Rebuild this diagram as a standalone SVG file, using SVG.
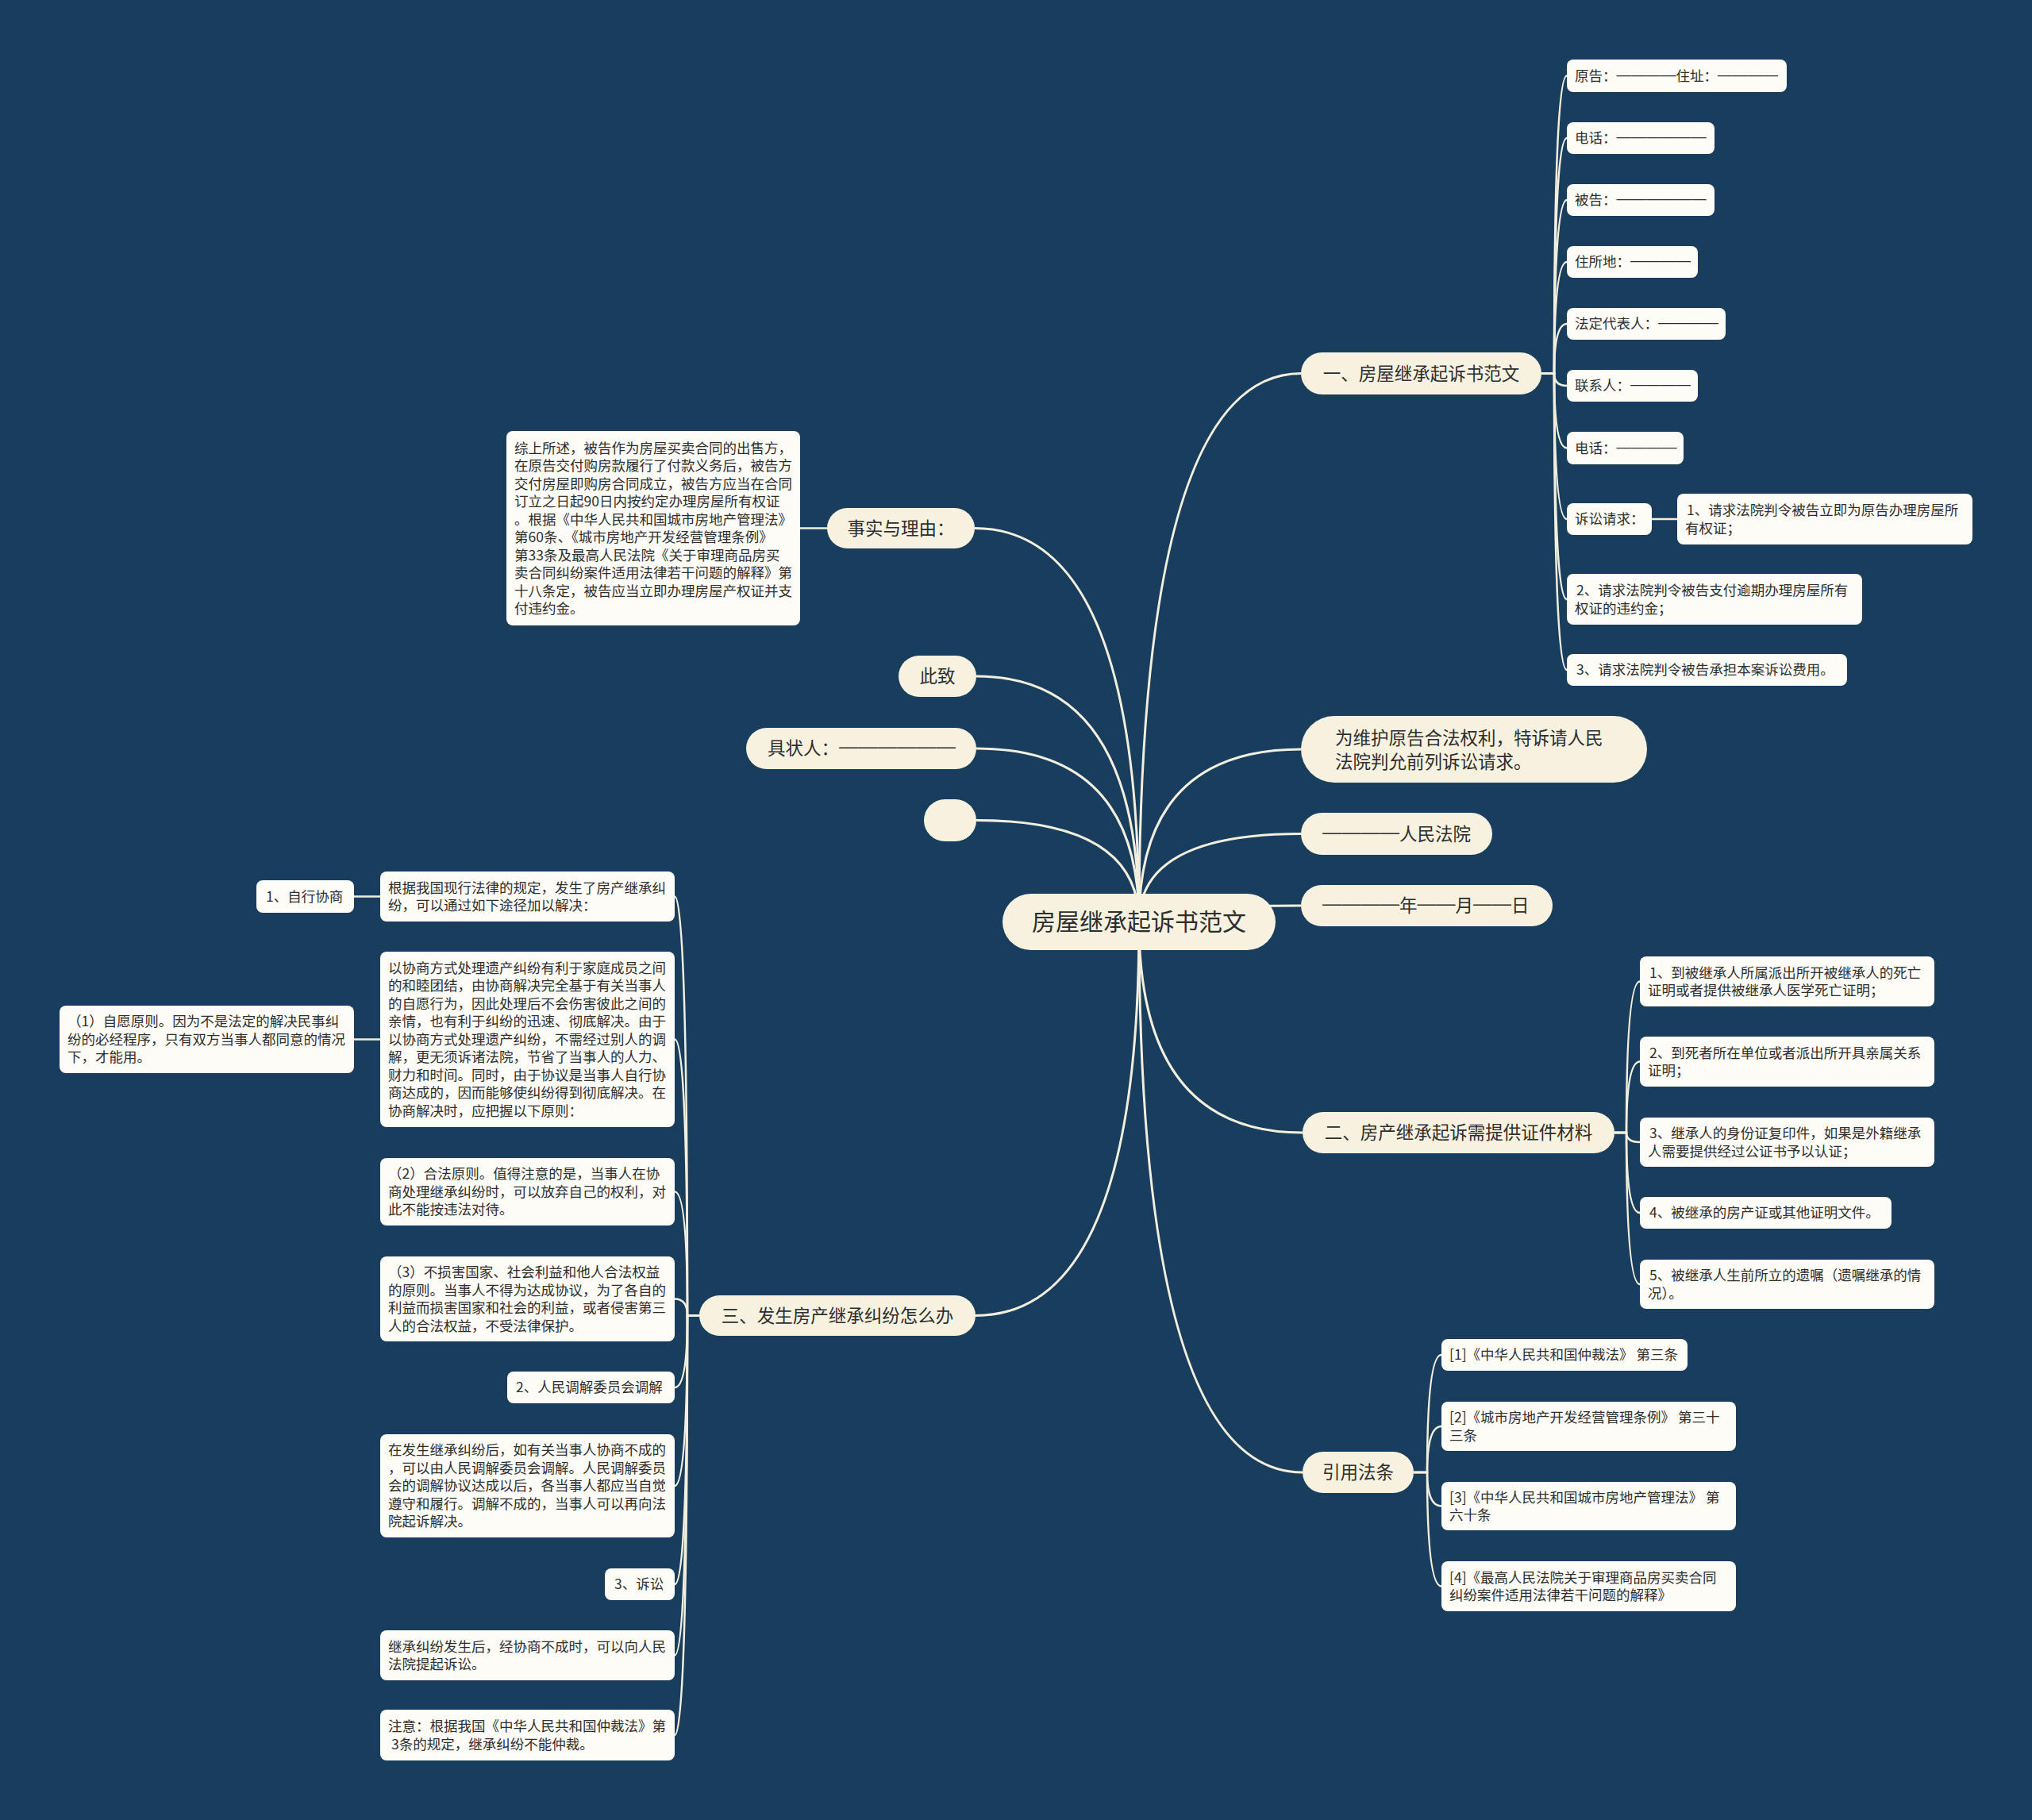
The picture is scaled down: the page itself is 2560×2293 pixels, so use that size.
<svg xmlns="http://www.w3.org/2000/svg" width="2560" height="2293" viewBox="0 0 2560 2293">
<style>
.pill{fill:#f7f2df}
.leaf{fill:#fdfcf6}
.t{font-family:"Noto Sans CJK SC","Noto Sans CJK JP",sans-serif;fill:#2e2e2e}
.tl{font-size:17.5px}
.tb{font-size:22.5px}
.tr{font-size:30px}
.m{text-anchor:middle}
.d{font-family:"Liberation Sans","DejaVu Sans",sans-serif}
.c{fill:none;stroke:#f3efdf;stroke-width:3}
.cs{fill:none;stroke:#f3efdf;stroke-width:2.5}
</style>
<rect width="2560" height="2293" fill="#193d5d"/>
<g id="connectors">
<path class="c" d="M1435,1161.5 Q1435,470.5 1639,470.5"/>
<path class="c" d="M1435,1161.5 Q1435,944 1639,944"/>
<path class="c" d="M1435,1161.5 Q1435,1050.5 1639,1050.5"/>
<path class="c" d="M1435,1161.5 Q1435,1141 1639,1141"/>
<path class="c" d="M1435,1161.5 Q1435,1427 1641,1427"/>
<path class="c" d="M1435,1161.5 Q1435,1855 1641,1855"/>
<path class="c" d="M1435,1161.5 Q1435,665.5 1228,665.5"/>
<path class="c" d="M1435,1161.5 Q1435,852 1230,852"/>
<path class="c" d="M1435,1161.5 Q1435,943 1230,943"/>
<path class="c" d="M1435,1161.5 Q1435,1033.5 1230,1033.5"/>
<path class="c" d="M1435,1161.5 Q1435,1657.5 1229,1657.5"/>
<path class="cs" d="M1942,470.5 L1958,470.5 Q1958,95.5 1974,95.5"/>
<path class="cs" d="M1942,470.5 L1958,470.5 Q1958,174 1974,174"/>
<path class="cs" d="M1942,470.5 L1958,470.5 Q1958,252 1974,252"/>
<path class="cs" d="M1942,470.5 L1958,470.5 Q1958,330 1974,330"/>
<path class="cs" d="M1942,470.5 L1958,470.5 Q1958,408 1974,408"/>
<path class="cs" d="M1942,470.5 L1958,470.5 Q1958,486 1974,486"/>
<path class="cs" d="M1942,470.5 L1958,470.5 Q1958,564.5 1974,564.5"/>
<path class="cs" d="M1942,470.5 L1958,470.5 Q1958,654 1974,654"/>
<path class="cs" d="M1942,470.5 L1958,470.5 Q1958,755 1974,755"/>
<path class="cs" d="M1942,470.5 L1958,470.5 Q1958,844 1974,844"/>
<path class="cs" d="M2081,654 L2113,654"/>
<path class="cs" d="M2034,1427 L2049,1427 Q2049,1236.5 2066,1236.5"/>
<path class="cs" d="M2034,1427 L2049,1427 Q2049,1337.5 2066,1337.5"/>
<path class="cs" d="M2034,1427 L2049,1427 Q2049,1439 2066,1439"/>
<path class="cs" d="M2034,1427 L2049,1427 Q2049,1528 2066,1528"/>
<path class="cs" d="M2034,1427 L2049,1427 Q2049,1618 2066,1618"/>
<path class="cs" d="M1781,1855 L1798,1855 Q1798,1707 1816,1707"/>
<path class="cs" d="M1781,1855 L1798,1855 Q1798,1797 1816,1797"/>
<path class="cs" d="M1781,1855 L1798,1855 Q1798,1897.5 1816,1897.5"/>
<path class="cs" d="M1781,1855 L1798,1855 Q1798,1998.5 1816,1998.5"/>
<path class="cs" d="M1042,665.5 L1008,665.5"/>
<path class="cs" d="M881,1657.5 L866,1657.5 Q866,1129.5 850,1129.5"/>
<path class="cs" d="M881,1657.5 L866,1657.5 Q866,1309.5 850,1309.5"/>
<path class="cs" d="M881,1657.5 L866,1657.5 Q866,1501.5 850,1501.5"/>
<path class="cs" d="M881,1657.5 L866,1657.5 Q866,1636.5 850,1636.5"/>
<path class="cs" d="M881,1657.5 L866,1657.5 Q866,1748 850,1748"/>
<path class="cs" d="M881,1657.5 L866,1657.5 Q866,1872 850,1872"/>
<path class="cs" d="M881,1657.5 L866,1657.5 Q866,1996 850,1996"/>
<path class="cs" d="M881,1657.5 L866,1657.5 Q866,2085.5 850,2085.5"/>
<path class="cs" d="M881,1657.5 L866,1657.5 Q866,2186 850,2186"/>
<path class="cs" d="M479,1129.5 L446,1129.5"/>
<path class="cs" d="M479,1309.5 L446,1309.5"/>
</g>
<g id="root"><rect class="pill" x="1263" y="1126" width="344" height="71" rx="35.5"/><text class="t tr m" x="1435" y="1172">房屋继承起诉书范文</text></g>
<g id="b1"><rect class="pill" x="1639" y="444" width="303" height="53" rx="26.5"/><text class="t tb m" x="1790.5" y="478.5">一、房屋继承起诉书范文</text></g>
<g id="b2"><rect class="pill" x="1639" y="902" width="436" height="84" rx="42"/><text class="t tb" x="1682" y="938">为维护原告合法权利，特诉请人民</text><text class="t tb" x="1682" y="968">法院判允前列诉讼请求。</text></g>
<g id="b3"><rect class="pill" x="1639" y="1024" width="241" height="53" rx="26.5"/><text class="t tb" x="1666" y="1058.5"><tspan class="d" dy="-3" textLength="97" lengthAdjust="spacingAndGlyphs">————</tspan><tspan dy="3">人民法院</tspan></text></g>
<g id="b4"><rect class="pill" x="1639" y="1115" width="317" height="52" rx="26"/><text class="t tb" x="1666" y="1149"><tspan class="d" dy="-3" textLength="97" lengthAdjust="spacingAndGlyphs">————</tspan><tspan dy="3">年</tspan><tspan class="d" dy="-3" textLength="48" lengthAdjust="spacingAndGlyphs">——</tspan><tspan dy="3">月</tspan><tspan class="d" dy="-3" textLength="48" lengthAdjust="spacingAndGlyphs">——</tspan><tspan dy="3">日</tspan></text></g>
<g id="b5"><rect class="pill" x="1641" y="1401" width="393" height="52" rx="26"/><text class="t tb m" x="1837.5" y="1435">二、房产继承起诉需提供证件材料</text></g>
<g id="b6"><rect class="pill" x="1641" y="1829" width="140" height="52" rx="26"/><text class="t tb m" x="1711" y="1863">引用法条</text></g>
<g id="b7"><rect class="pill" x="1042" y="640" width="186" height="51" rx="25.5"/><text class="t tb m" x="1135" y="673.5">事实与理由：</text></g>
<g id="b8"><rect class="pill" x="1132" y="826" width="98" height="52" rx="26"/><text class="t tb m" x="1181" y="860">此致</text></g>
<g id="b9"><rect class="pill" x="940" y="917" width="290" height="52" rx="26"/><text class="t tb" x="967" y="951">具状人：<tspan class="d" dy="-3" textLength="147" lengthAdjust="spacingAndGlyphs">——————</tspan></text></g>
<g id="b10"><rect class="pill" x="1164" y="1007" width="66" height="53" rx="26.5"/></g>
<g id="b11"><rect class="pill" x="881" y="1632" width="348" height="51" rx="25.5"/><text class="t tb m" x="1055" y="1665.5">三、发生房产继承纠纷怎么办</text></g>
<g id="n1"><rect class="leaf" x="1974" y="75" width="277" height="41" rx="8"/><text class="t tl" x="1984" y="101.8">原告：<tspan class="d" dy="-2" textLength="75" lengthAdjust="spacingAndGlyphs">————</tspan><tspan dy="2">住址：</tspan><tspan class="d" dy="-2" textLength="76" lengthAdjust="spacingAndGlyphs">————</tspan></text></g>
<g id="n2"><rect class="leaf" x="1974" y="154" width="186" height="40" rx="8"/><text class="t tl" x="1984" y="180.3">电话：<tspan class="d" dy="-2" textLength="113" lengthAdjust="spacingAndGlyphs">——————</tspan></text></g>
<g id="n3"><rect class="leaf" x="1974" y="232" width="186" height="40" rx="8"/><text class="t tl" x="1984" y="258.3">被告：<tspan class="d" dy="-2" textLength="113" lengthAdjust="spacingAndGlyphs">——————</tspan></text></g>
<g id="n4"><rect class="leaf" x="1974" y="310" width="165" height="40" rx="8"/><text class="t tl" x="1984" y="336.3">住所地：<tspan class="d" dy="-2" textLength="76" lengthAdjust="spacingAndGlyphs">————</tspan></text></g>
<g id="n5"><rect class="leaf" x="1974" y="388" width="200" height="40" rx="8"/><text class="t tl" x="1984" y="414.3">法定代表人：<tspan class="d" dy="-2" textLength="76" lengthAdjust="spacingAndGlyphs">————</tspan></text></g>
<g id="n6"><rect class="leaf" x="1974" y="466" width="165" height="40" rx="8"/><text class="t tl" x="1984" y="492.3">联系人：<tspan class="d" dy="-2" textLength="76" lengthAdjust="spacingAndGlyphs">————</tspan></text></g>
<g id="n7"><rect class="leaf" x="1974" y="544" width="147" height="41" rx="8"/><text class="t tl" x="1984" y="570.8">电话：<tspan class="d" dy="-2" textLength="76" lengthAdjust="spacingAndGlyphs">————</tspan></text></g>
<g id="n8"><rect class="leaf" x="1974" y="634" width="107" height="40" rx="8"/><text class="t tl" x="1984" y="660.3">诉讼请求：</text></g>
<g id="n9"><rect class="leaf" x="2113" y="622" width="372" height="64" rx="8"/><text class="t tl" x="2125" y="649">1、请求法院判令被告立即为原告办理房屋所</text><text class="t tl" x="2123" y="671.5">有权证；</text></g>
<g id="n10"><rect class="leaf" x="1974" y="723" width="372" height="64" rx="8"/><text class="t tl" x="1986" y="750">2、请求法院判令被告支付逾期办理房屋所有</text><text class="t tl" x="1984" y="772.5">权证的违约金；</text></g>
<g id="n11"><rect class="leaf" x="1974" y="824" width="353" height="40" rx="8"/><text class="t tl" x="1986" y="850.3">3、请求法院判令被告承担本案诉讼费用。</text></g>
<g id="n12"><rect class="leaf" x="2066" y="1205" width="371" height="63" rx="8"/><text class="t tl" x="2078" y="1231.5">1、到被继承人所属派出所开被继承人的死亡</text><text class="t tl" x="2076" y="1254">证明或者提供被继承人医学死亡证明；</text></g>
<g id="n13"><rect class="leaf" x="2066" y="1306" width="371" height="63" rx="8"/><text class="t tl" x="2078" y="1332.5">2、到死者所在单位或者派出所开具亲属关系</text><text class="t tl" x="2076" y="1355">证明；</text></g>
<g id="n14"><rect class="leaf" x="2066" y="1408" width="371" height="62" rx="8"/><text class="t tl" x="2078" y="1434">3、继承人的身份证复印件，如果是外籍继承</text><text class="t tl" x="2076" y="1456.5">人需要提供经过公证书予以认证；</text></g>
<g id="n15"><rect class="leaf" x="2066" y="1508" width="317" height="40" rx="8"/><text class="t tl" x="2078" y="1534.3">4、被继承的房产证或其他证明文件。</text></g>
<g id="n16"><rect class="leaf" x="2066" y="1587" width="371" height="62" rx="8"/><text class="t tl" x="2078" y="1613">5、被继承人生前所立的遗嘱（遗嘱继承的情</text><text class="t tl" x="2076" y="1635.5">况）。</text></g>
<g id="n17"><rect class="leaf" x="1816" y="1687" width="310" height="40" rx="8"/><text class="t tl" x="1826" y="1713.3">[1]《中华人民共和国仲裁法》 第三条</text></g>
<g id="n18"><rect class="leaf" x="1816" y="1766" width="371" height="62" rx="8"/><text class="t tl" x="1826" y="1792">[2]《城市房地产开发经营管理条例》 第三十</text><text class="t tl" x="1826" y="1814.5">三条</text></g>
<g id="n19"><rect class="leaf" x="1816" y="1867" width="371" height="61" rx="8"/><text class="t tl" x="1826" y="1892.5">[3]《中华人民共和国城市房地产管理法》 第</text><text class="t tl" x="1826" y="1915">六十条</text></g>
<g id="n20"><rect class="leaf" x="1816" y="1967" width="371" height="63" rx="8"/><text class="t tl" x="1826" y="1993.5">[4]《最高人民法院关于审理商品房买卖合同</text><text class="t tl" x="1826" y="2016">纠纷案件适用法律若干问题的解释》</text></g>
<g id="n21"><rect class="leaf" x="638" y="543" width="370" height="245" rx="8"/><text class="t tl" x="648" y="570.5">综上所述，被告作为房屋买卖合同的出售方，</text><text class="t tl" x="648" y="593">在原告交付购房款履行了付款义务后，被告方</text><text class="t tl" x="648" y="615.5">交付房屋即购房合同成立，被告方应当在合同</text><text class="t tl" x="648" y="638">订立之日起90日内按约定办理房屋所有权证</text><text class="t tl" x="648" y="660.5">。根据《中华人民共和国城市房地产管理法》</text><text class="t tl" x="648" y="683">第60条、《城市房地产开发经营管理条例》</text><text class="t tl" x="648" y="705.5">第33条及最高人民法院《关于审理商品房买</text><text class="t tl" x="648" y="728">卖合同纠纷案件适用法律若干问题的解释》第</text><text class="t tl" x="648" y="750.5">十八条定，被告应当立即办理房屋产权证并支</text><text class="t tl" x="648" y="773">付违约金。</text></g>
<g id="n22"><rect class="leaf" x="479" y="1098" width="371" height="63" rx="8"/><text class="t tl" x="489" y="1124.5">根据我国现行法律的规定，发生了房产继承纠</text><text class="t tl" x="489" y="1147">纷，可以通过如下途径加以解决：</text></g>
<g id="n23"><rect class="leaf" x="323" y="1109" width="123" height="41" rx="8"/><text class="t tl" x="335" y="1135.8">1、自行协商</text></g>
<g id="n24"><rect class="leaf" x="479" y="1199" width="371" height="221" rx="8"/><text class="t tl" x="489" y="1225.8">以协商方式处理遗产纠纷有利于家庭成员之间</text><text class="t tl" x="489" y="1248.3">的和睦团结，由协商解决完全基于有关当事人</text><text class="t tl" x="489" y="1270.8">的自愿行为，因此处理后不会伤害彼此之间的</text><text class="t tl" x="489" y="1293.3">亲情，也有利于纠纷的迅速、彻底解决。由于</text><text class="t tl" x="489" y="1315.8">以协商方式处理遗产纠纷，不需经过别人的调</text><text class="t tl" x="489" y="1338.3">解，更无须诉诸法院，节省了当事人的人力、</text><text class="t tl" x="489" y="1360.8">财力和时间。同时，由于协议是当事人自行协</text><text class="t tl" x="489" y="1383.3">商达成的，因而能够使纠纷得到彻底解决。在</text><text class="t tl" x="489" y="1405.8">协商解决时，应把握以下原则：</text></g>
<g id="n25"><rect class="leaf" x="75" y="1267" width="371" height="85" rx="8"/><text class="t tl" x="85" y="1293.3">（1）自愿原则。因为不是法定的解决民事纠</text><text class="t tl" x="85" y="1315.8">纷的必经程序，只有双方当事人都同意的情况</text><text class="t tl" x="85" y="1338.3">下，才能用。</text></g>
<g id="n26"><rect class="leaf" x="479" y="1459" width="371" height="85" rx="8"/><text class="t tl" x="489" y="1485.3">（2）合法原则。值得注意的是，当事人在协</text><text class="t tl" x="489" y="1507.8">商处理继承纠纷时，可以放弃自己的权利，对</text><text class="t tl" x="489" y="1530.3">此不能按违法对待。</text></g>
<g id="n27"><rect class="leaf" x="479" y="1583" width="371" height="107" rx="8"/><text class="t tl" x="489" y="1609">（3）不损害国家、社会利益和他人合法权益</text><text class="t tl" x="489" y="1631.5">的原则。当事人不得为达成协议，为了各自的</text><text class="t tl" x="489" y="1654">利益而损害国家和社会的利益，或者侵害第三</text><text class="t tl" x="489" y="1676.5">人的合法权益，不受法律保护。</text></g>
<g id="n28"><rect class="leaf" x="639" y="1728" width="211" height="40" rx="8"/><text class="t tl" x="650" y="1754.3">2、人民调解委员会调解</text></g>
<g id="n29"><rect class="leaf" x="479" y="1807" width="371" height="130" rx="8"/><text class="t tl" x="489" y="1833.3">在发生继承纠纷后，如有关当事人协商不成的</text><text class="t tl" x="489" y="1855.8">，可以由人民调解委员会调解。人民调解委员</text><text class="t tl" x="489" y="1878.3">会的调解协议达成以后，各当事人都应当自觉</text><text class="t tl" x="489" y="1900.8">遵守和履行。调解不成的，当事人可以再向法</text><text class="t tl" x="489" y="1923.3">院起诉解决。</text></g>
<g id="n30"><rect class="leaf" x="762" y="1976" width="88" height="40" rx="8"/><text class="t tl" x="774" y="2002.3">3、诉讼</text></g>
<g id="n31"><rect class="leaf" x="479" y="2054" width="371" height="63" rx="8"/><text class="t tl" x="489" y="2080.5">继承纠纷发生后，经协商不成时，可以向人民</text><text class="t tl" x="489" y="2103">法院提起诉讼。</text></g>
<g id="n32"><rect class="leaf" x="479" y="2154" width="371" height="64" rx="8"/><text class="t tl" x="489" y="2181">注意：根据我国《中华人民共和国仲裁法》第</text><text class="t tl" x="493" y="2203.5">3条的规定，继承纠纷不能仲裁。</text></g>
</svg>
